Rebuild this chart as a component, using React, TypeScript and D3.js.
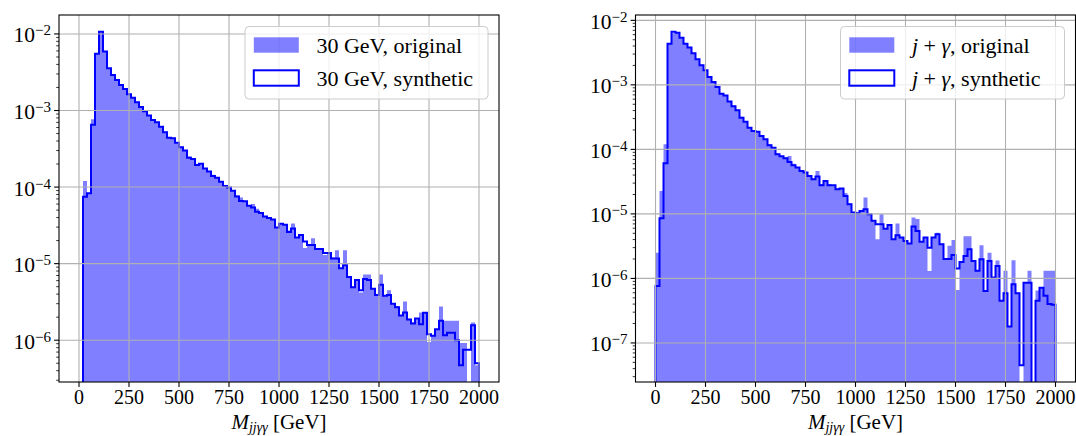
import React from "react";
import * as d3 from "d3";

// Histogram bin width in GeV; bins run from 0 to 2000 GeV.
const BIN_WIDTH = 20;

// Normalised M_jjγγ distributions, one value per 20 GeV bin (0 = empty bin).
const photon30Original = [
  0, 1.2e-4, 8.3e-5, 7.7e-4, 5.6e-3, 1.05e-2, 5.9e-3, 3.6e-3, 2.95e-3, 2.5e-3,
  2.2e-3, 1.9e-3, 1.65e-3, 1.47e-3, 1.3e-3, 1.12e-3, 9.9e-4, 8.6e-4, 7.6e-4, 7.0e-4,
  6.2e-4, 5.3e-4, 4.5e-4, 4.4e-4, 3.8e-4, 3.35e-4, 3.0e-4, 2.5e-4, 2.35e-4, 2.0e-4,
  2.05e-4, 1.75e-4, 1.62e-4, 1.45e-4, 1.32e-4, 1.2e-4, 1.05e-4, 1.0e-4, 9.0e-5, 7.8e-5,
  7.3e-5, 6.6e-5, 5.8e-5, 6.0e-5, 5.2e-5, 4.6e-5, 4.2e-5, 3.9e-5, 3.8e-5, 3.0e-5,
  3.3e-5, 3.2e-5, 2.7e-5, 3.35e-5, 2.2e-5, 2.4e-5, 1.6e-5, 1.75e-5, 2.15e-5, 1.55e-5,
  1.6e-5, 1.3e-5, 1.4e-5, 1.2e-5, 1.5e-5, 8.8e-6, 1.5e-5, 6.8e-6, 5.0e-6, 6.1e-6,
  4.2e-6, 7.2e-6, 7.2e-6, 4.8e-6, 4.0e-6, 7.2e-6, 3.8e-6, 4.5e-6, 3.0e-6, 2.8e-6,
  2.1e-6, 3.2e-6, 1.9e-6, 1.7e-6, 1.95e-6, 2.3e-6, 2.3e-6, 9.5e-7, 1.15e-6, 1.4e-6,
  2.75e-6, 1.8e-6, 1.8e-6, 1.8e-6, 1.8e-6, 9.2e-7, 9.2e-7, 0, 1.7e-6, 4.7e-7,
];

const photon30Synthetic = [
  0, 7.5e-5, 8.3e-5, 6.5e-4, 5.5e-3, 1.07e-2, 5.9e-3, 3.55e-3, 2.91e-3, 2.5e-3,
  2.15e-3, 1.91e-3, 1.63e-3, 1.47e-3, 1.28e-3, 1.11e-3, 9.8e-4, 8.6e-4, 7.5e-4, 7.0e-4,
  6.15e-4, 5.2e-4, 4.42e-4, 4.33e-4, 3.8e-4, 3.3e-4, 3.0e-4, 2.42e-4, 2.32e-4, 1.94e-4,
  2.02e-4, 1.75e-4, 1.6e-4, 1.4e-4, 1.32e-4, 1.17e-4, 1.03e-4, 9.9e-5, 8.95e-5, 7.55e-5,
  6.6e-5, 6.55e-5, 5.7e-5, 5.4e-5, 4.75e-5, 4.57e-5, 4.14e-5, 3.94e-5, 3.78e-5, 2.97e-5,
  3.32e-5, 3.22e-5, 2.58e-5, 2.88e-5, 2.2e-5, 2.36e-5, 1.95e-5, 1.75e-5, 1.75e-5, 1.55e-5,
  1.55e-5, 1.38e-5, 1.38e-5, 1.17e-5, 1.17e-5, 8.7e-6, 9.5e-6, 6.7e-6, 4.9e-6, 6.1e-6,
  4.5e-6, 6.3e-6, 6.1e-6, 4.7e-6, 3.9e-6, 5.3e-6, 3.8e-6, 3.9e-6, 3.0e-6, 2.7e-6,
  2.1e-6, 2.3e-6, 1.86e-6, 1.65e-6, 1.92e-6, 1.62e-6, 2.28e-6, 1.2e-6, 1.14e-6, 1.39e-6,
  1.79e-6, 1.16e-6, 1.25e-6, 1.25e-6, 1.0e-6, 4.7e-7, 7.5e-7, 7.5e-7, 1.57e-6, 5.0e-7,
];

const jetPhotonOriginal = [
  2.5e-6, 2.27e-5, 1.2e-4, 4.4e-3, 6.3e-3, 6.4e-3, 5.4e-3, 4.4e-3, 3.8e-3, 3.1e-3,
  2.5e-3, 2.05e-3, 1.7e-3, 1.35e-3, 1.13e-3, 9.5e-4, 7.5e-4, 6.9e-4, 5.6e-4, 4.8e-4,
  4.1e-4, 3.2e-4, 2.75e-4, 2.2e-4, 2.0e-4, 1.9e-4, 1.65e-4, 1.45e-4, 1.2e-4, 1.08e-4,
  8.6e-5, 7.9e-5, 7.5e-5, 7.9e-5, 6.0e-5, 5.3e-5, 4.7e-5, 4.4e-5, 3.9e-5, 3.5e-5,
  4.64e-5, 2.9e-5, 3.3e-5, 2.9e-5, 2.8e-5, 2.45e-5, 2.5e-5, 2.1e-5, 1.45e-5, 1.06e-5,
  1.03e-5, 1.12e-5, 1.79e-5, 1.0e-5, 7.9e-6, 4.05e-6, 9.9e-6, 6.0e-6, 6.8e-6, 4.1e-6,
  7.1e-6, 4.35e-6, 3.85e-6, 3.5e-6, 8.8e-6, 8.3e-6, 3.7e-6, 4.3e-6, 1.3e-6, 4.35e-6,
  5.1e-6, 3.45e-6, 2.05e-6, 3.2e-6, 3.95e-6, 6.6e-7, 1.85e-6, 4.5e-6, 4.5e-6, 1.9e-6,
  1.31e-6, 3.27e-6, 6.4e-7, 2.5e-6, 1.05e-6, 1.9e-6, 4.6e-7, 1.31e-6, 1.8e-7, 1.91e-6,
  6.0e-7, 0, 8.6e-7, 1.31e-6, 0, 6.5e-7, 7.3e-7, 1.31e-6, 1.31e-6, 1.31e-6,
];

const jetPhotonSynthetic = [
  7.65e-7, 8.57e-6, 6.09e-5, 4.35e-3, 6.67e-3, 6.44e-3, 5.38e-3, 4.35e-3, 3.78e-3, 3.08e-3,
  2.49e-3, 2.01e-3, 1.68e-3, 1.32e-3, 1.11e-3, 9.27e-4, 7.31e-4, 6.81e-4, 5.5e-4, 4.65e-4,
  4.03e-4, 3.1e-4, 2.69e-4, 2.17e-4, 1.93e-4, 1.88e-4, 1.61e-4, 1.43e-4, 1.16e-4, 1.06e-4,
  8.4e-5, 7.8e-5, 7.3e-5, 6.4e-5, 5.67e-5, 5.22e-5, 4.64e-5, 4.37e-5, 3.88e-5, 3.44e-5,
  3.79e-5, 2.78e-5, 3.24e-5, 2.78e-5, 2.78e-5, 2.41e-5, 2.47e-5, 1.9e-5, 1.41e-5, 1.05e-5,
  1.02e-5, 1.11e-5, 1.18e-5, 9.9e-6, 7.8e-6, 6.9e-6, 6.9e-6, 5.9e-6, 6.75e-6, 4.05e-6,
  4.67e-6, 4.3e-6, 3.8e-6, 3.47e-6, 6.4e-6, 5.45e-6, 3.7e-6, 4.3e-6, 3.0e-6, 4.3e-6,
  4.85e-6, 3.4e-6, 2.0e-6, 2.0e-6, 2.3e-6, 1.42e-6, 1.8e-6, 2.23e-6, 2.83e-6, 1.87e-6,
  1.31e-6, 1.98e-6, 6.4e-7, 1.87e-6, 1.03e-6, 1.56e-6, 4.5e-7, 5.9e-7, 1.8e-7, 8.1e-7,
  5.9e-7, 4.5e-8, 8.6e-7, 8.6e-7, 0, 4.5e-7, 7.2e-7, 5.4e-7, 4.0e-7, 3.9e-7,
];

const X_TICKS = [0, 250, 500, 750, 1000, 1250, 1500, 1750, 2000];
const X_DOMAIN: [number, number] = [-100, 2100];

const FONT = "'Liberation Serif', 'DejaVu Serif', 'Times New Roman', serif";
const BLUE = "#0000ff";
const GRID = "#b0b0b0";
const PLOT_TOP = 15;
const PLOT_BOTTOM = 382;

// Log-scale limits with a 5 % margin (in decades) around the positive data.
function logDomain(series: number[][]): [number, number] {
  const vals = series.flat().filter((v) => v > 0);
  const lo = Math.log10(d3.min(vals) as number);
  const hi = Math.log10(d3.max(vals) as number);
  const pad = (hi - lo) * 0.05;
  return [10 ** (lo - pad), 10 ** (hi + pad)];
}

// Outline of a histogram as a staircase; empty bins drop below the axes.
function stepPoints(
  values: number[],
  x: d3.ScaleLinear<number, number>,
  y: d3.ScaleLogarithmic<number, number>,
  floorY: number
): [number, number][] {
  const pts: [number, number][] = [[x(0), floorY]];
  values.forEach((v, i) => {
    const yy = v > 0 ? y(v) : floorY;
    pts.push([x(i * BIN_WIDTH), yy], [x((i + 1) * BIN_WIDTH), yy]);
  });
  pts.push([x(values.length * BIN_WIDTH), floorY]);
  return pts;
}

type LegendLabel = React.ReactNode;

interface PanelProps {
  id: string;
  x0: number;
  x1: number;
  original: number[];
  synthetic: number[];
  labelOriginal: LegendLabel;
  labelSynthetic: LegendLabel;
  legendWidth: number;
}

function Panel({ id, x0, x1, original, synthetic, labelOriginal, labelSynthetic, legendWidth }: PanelProps) {
  const x = d3.scaleLinear().domain(X_DOMAIN).range([x0, x1]);
  const yDomain = logDomain([original, synthetic]);
  const y = d3.scaleLog().domain(yDomain).range([PLOT_BOTTOM, PLOT_TOP]);

  const kLo = Math.floor(Math.log10(yDomain[0]));
  const kHi = Math.ceil(Math.log10(yDomain[1]));
  const majors: number[] = [];
  const minors: number[] = [];
  for (let k = kLo; k <= kHi; k++) {
    const base = 10 ** k;
    if (base >= yDomain[0] && base <= yDomain[1]) majors.push(k);
    for (let m = 2; m <= 9; m++) {
      const v = m * base;
      if (v >= yDomain[0] && v <= yDomain[1]) minors.push(v);
    }
  }

  const floorY = PLOT_BOTTOM + 30;
  const line = d3.line();
  const fillPath = line(stepPoints(original, x, y, floorY)) + "Z";
  const outlinePath = line(stepPoints(synthetic, x, y, floorY)) as string;

  const clipId = `clip-${id}`;
  const majorLen = 4.9;
  const minorLen = 2.8;

  // legend geometry
  const lgRight = x1 - 11;
  const lgLeft = lgRight - legendWidth;
  const lgTop = 26.5;
  const lgHeight = 72.5;
  const patchX = lgLeft + 8.8;
  const patchW = 45;
  const patchH = 15.4;
  const rowCenters = [45, 78];
  const textX = patchX + patchW + 17.6;

  return (
    <g>
      <defs>
        <clipPath id={clipId}>
          <rect x={x0} y={PLOT_TOP} width={x1 - x0} height={PLOT_BOTTOM - PLOT_TOP} />
        </clipPath>
      </defs>

      <g clipPath={`url(#${clipId})`}>
        <path d={fillPath} fill={BLUE} fillOpacity={0.5} stroke="none" />
        <path d={outlinePath} fill="none" stroke={BLUE} strokeWidth={2} strokeLinejoin="miter" />
        {X_TICKS.map((t) => (
          <line key={`gx${t}`} x1={x(t)} x2={x(t)} y1={PLOT_TOP} y2={PLOT_BOTTOM} stroke={GRID} strokeWidth={1.1} />
        ))}
        {majors.map((k) => (
          <line key={`gy${k}`} x1={x0} x2={x1} y1={y(10 ** k)} y2={y(10 ** k)} stroke={GRID} strokeWidth={1.1} />
        ))}
      </g>

      {/* spines */}
      <rect x={x0} y={PLOT_TOP} width={x1 - x0} height={PLOT_BOTTOM - PLOT_TOP} fill="none" stroke="#000" strokeWidth={1.1} />

      {/* x ticks */}
      {X_TICKS.map((t) => (
        <g key={`xt${t}`}>
          <line x1={x(t)} x2={x(t)} y1={PLOT_BOTTOM} y2={PLOT_BOTTOM + majorLen} stroke="#000" strokeWidth={1.1} />
          <text x={x(t)} y={404} textAnchor="middle" fontSize={20} fill="#000">
            {t}
          </text>
        </g>
      ))}

      {/* y ticks */}
      {minors.map((v, i) => (
        <line key={`ym${i}`} x1={x0 - minorLen} x2={x0} y1={y(v)} y2={y(v)} stroke="#000" strokeWidth={0.8} />
      ))}
      {majors.map((k) => (
        <g key={`yt${k}`}>
          <line x1={x0 - majorLen} x2={x0} y1={y(10 ** k)} y2={y(10 ** k)} stroke="#000" strokeWidth={1.1} />
          <text x={x0 - 8} y={y(10 ** k) + 8.5} textAnchor="end" fontSize={21.5} fill="#000">
            10
            <tspan fontSize={15} dy={-7}>
              {`\u2212${Math.abs(k)}`}
            </tspan>
          </text>
        </g>
      ))}

      {/* x axis label */}
      <text x={(x0 + x1) / 2} y={428.5} textAnchor="middle" fontSize={21} fill="#000">
        <tspan fontStyle="italic">M</tspan>
        <tspan fontStyle="italic" fontSize={14} dy={3.5}>
          jjγγ
        </tspan>
        <tspan dy={-3.5}> [GeV]</tspan>
      </text>

      {/* legend */}
      <rect
        x={lgLeft}
        y={lgTop}
        width={legendWidth}
        height={lgHeight}
        rx={4}
        ry={4}
        fill="#fff"
        fillOpacity={0.8}
        stroke="#cccccc"
        strokeWidth={1}
      />
      <rect x={patchX} y={rowCenters[0] - patchH / 2} width={patchW} height={patchH} fill={BLUE} fillOpacity={0.5} />
      <rect
        x={patchX}
        y={rowCenters[1] - patchH / 2}
        width={patchW}
        height={patchH}
        fill="none"
        stroke={BLUE}
        strokeWidth={2}
      />
      <text x={textX} y={rowCenters[0] + 8} fontSize={22} fill="#000">
        {labelOriginal}
      </text>
      <text x={textX} y={rowCenters[1] + 8} fontSize={22} fill="#000">
        {labelSynthetic}
      </text>
    </g>
  );
}

function JetPhoton({ suffix }: { suffix: string }) {
  return (
    <>
      <tspan fontStyle="italic">j</tspan>
      {" + "}
      <tspan fontStyle="italic">γ</tspan>
      {`, ${suffix}`}
    </>
  );
}

export default function App() {
  return (
    <div style={{ position: "absolute", left: 0, top: 0 }}>
      <svg width={1076} height={436} style={{ display: "block", background: "#fff" }} fontFamily={FONT}>
        <Panel
          id="photon30"
          x0={59}
          x1={499}
          original={photon30Original}
          synthetic={photon30Synthetic}
          labelOriginal="30 GeV, original"
          labelSynthetic="30 GeV, synthetic"
          legendWidth={243}
        />
        <Panel
          id="jetphoton"
          x0={635.5}
          x1={1075.5}
          original={jetPhotonOriginal}
          synthetic={jetPhotonSynthetic}
          labelOriginal={<JetPhoton suffix="original" />}
          labelSynthetic={<JetPhoton suffix="synthetic" />}
          legendWidth={224}
        />
      </svg>
    </div>
  );
}
